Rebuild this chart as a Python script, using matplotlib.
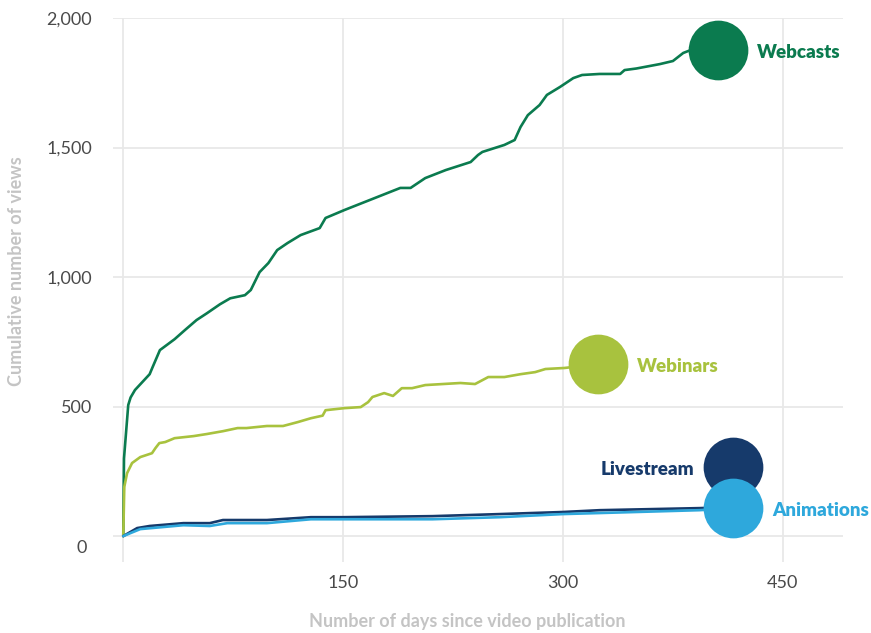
import matplotlib
matplotlib.use("Agg")
import matplotlib.pyplot as plt
import matplotlib.transforms as mtransforms

plt.rcParams["font.family"] = ["Lato", "DejaVu Sans"]

# cumulative views by days since publication
webcasts_days = [0, 0.5, 3.4, 5, 8, 18, 20, 25, 35, 42, 50, 57, 66, 73, 83, 87, 93, 99,
                 105, 112, 121, 134, 138, 151, 168, 189, 196, 206, 220, 237, 242, 245,
                 260, 267, 271, 276, 284, 289, 298, 307, 313, 325, 339, 342, 350, 366,
                 375, 382, 387, 406]
webcasts_views = [0, 300, 506, 535, 564, 625, 652, 718, 760, 795, 834, 860, 895, 918,
                  930, 950, 1019, 1054, 1104, 1131, 1162, 1189, 1228, 1259, 1297, 1344,
                  1344, 1382, 1413, 1444, 1471, 1483, 1510, 1529, 1579, 1625, 1664, 1703,
                  1734, 1768, 1780, 1784, 1784, 1799, 1805, 1822, 1834, 1865, 1876, 1876]

webinars_days = [0, 0.7, 2.6, 6, 11.6, 19.6, 22, 24.6, 28.6, 35, 48, 57, 68, 78, 84, 98,
                 109, 119, 128, 136, 138, 151, 162, 167, 170, 178, 184, 190, 197, 206,
                 230, 240, 249, 260, 271, 281, 288, 301, 324]
webinars_views = [0, 190, 243, 282, 305, 320, 340, 359, 363, 378, 386, 394, 405, 417,
                  417, 425, 425, 440, 455, 465, 486, 494, 498, 517, 537, 552, 541, 571,
                  571, 583, 591, 587, 614, 614, 625, 633, 645, 649, 664]

livestream_days = [0, 9.5, 18, 41, 59, 68, 98, 128, 150, 211, 257, 300, 325, 393, 416]
livestream_views = [0, 31, 39, 50, 50, 62, 62, 73, 73, 77, 85, 93, 100, 108, 112]

animations_days = [0, 11.6, 41, 59, 71, 98, 128, 211, 257, 300, 325, 393, 416]
animations_views = [0, 27, 42, 39, 50, 50, 65, 65, 73, 85, 89, 100, 108]

series = [
    ("Webcasts", webcasts_days, webcasts_views, "#0b7b4f", "right", 0),
    ("Webinars", webinars_days, webinars_views, "#a8c23e", "right", 0),
    ("Livestream", livestream_days, livestream_views, "#163a6b", "left", 40),
    ("Animations", animations_days, animations_views, "#2ea8dc", "right", 0),
]

x_ticks = [150, 300, 450]
y_ticks = [0, 500, 1000, 1500, 2000]
y_tick_labels = ["0", "500", "1,000", "1,500", "2,000"]

fig = plt.figure(figsize=(8.71, 6.33), dpi=100)
ax = fig.add_axes([113 / 871, 1 - 562 / 633, 730 / 871, 544 / 633])
ax.set_xlim(-7, 491)
ax.set_ylim(-100, 2000)

for name, days, views, color, side, lift in series:
    ax.plot(days, views, color=color, linewidth=1.9, solid_capstyle="round",
            solid_joinstyle="round", zorder=3)
    # end marker, optionally lifted so overlapping circles stay readable
    shift = mtransforms.offset_copy(ax.transData, fig=fig, x=0, y=lift, units="dots")
    ax.plot(days[-1], views[-1], "o", markersize=43, color=color,
            markeredgewidth=0, transform=shift, zorder=4)
    dx = 39 if side == "right" else -39
    lbl = mtransforms.offset_copy(ax.transData, fig=fig, x=dx, y=lift - 2, units="dots")
    ax.text(days[-1], views[-1], name, color=color, fontsize=13.5, fontweight="heavy",
            ha="left" if side == "right" else "right", va="center", transform=lbl,
            zorder=5)

ax.set_xticks([0] + x_ticks)
ax.set_xticklabels([""] + [str(t) for t in x_ticks])
ax.set_yticks(y_ticks)
ax.set_yticklabels(y_tick_labels)
ax.grid(True, color="#e8e8e8", linewidth=1.3)
ax.set_axisbelow(True)
for spine in ax.spines.values():
    spine.set_visible(False)
ax.tick_params(length=0, labelsize=13, labelcolor="#4a4a4a")
ax.tick_params(axis="y", pad=15)
ax.tick_params(axis="x", pad=9)

# the zero label sits a little below its gridline
zero_label = ax.get_yticklabels()[0]
zero_label.set_transform(zero_label.get_transform()
                         + mtransforms.ScaledTranslation(-0.05, -0.1, fig.dpi_scale_trans))

fig.text(17 / 871, 1 - 271 / 633, "Cumulative number of views", rotation=90,
         ha="center", va="center", fontsize=13, fontweight="bold", color="#c4c4c4")
fig.text(467 / 871, 1 - 621 / 633, "Number of days since video publication",
         ha="center", va="center", fontsize=13, fontweight="bold", color="#c4c4c4")

fig.savefig("out.png", dpi=100)
